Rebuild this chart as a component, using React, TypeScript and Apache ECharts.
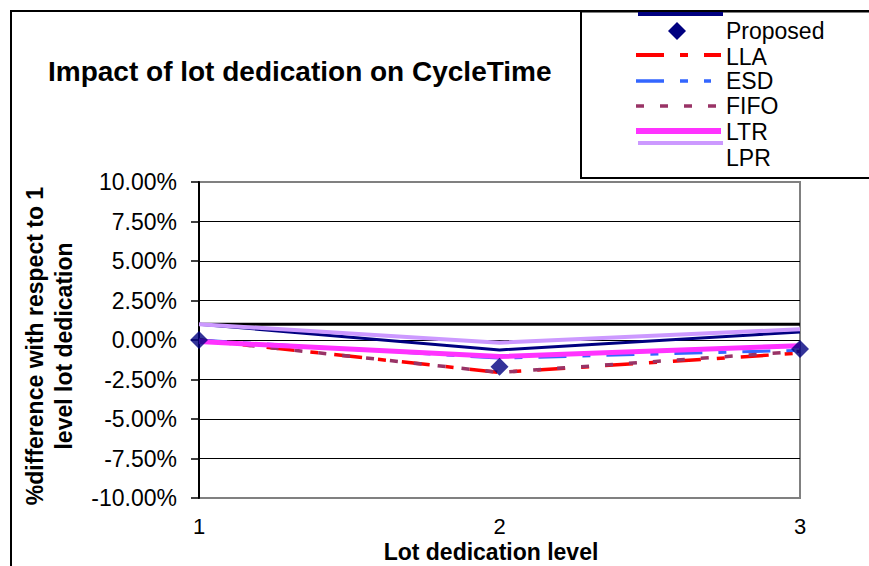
import React, { useEffect, useRef } from "react";
import * as echarts from "echarts";

// Lot dedication levels on the x axis
const levels = ["1", "2", "3"];

// % difference of cycle time with respect to 1-level lot dedication
const referenceLevel = [1, 1, 1];
const proposedTrend = [1, -0.63, 0.5];
const proposed = [0, -1.7, -0.57];
const lla = [0, -2.05, -0.83];
const esd = [0, -1.15, -0.65];
const fifo = [0, -2.05, -0.72];
const ltr = [-0.1, -1.05, -0.36];
const lpr = [1, -0.17, 0.68];

// y axis range and step (percent)
const yMin = -10;
const yMax = 10;
const yStep = 2.5;

const legendNames = ["Proposed", "LLA", "ESD", "FIFO", "LTR", "LPR"];

const FONT = '"Liberation Sans", Arial, sans-serif';
const NAVY = "#000080";
const RED = "#FF0000";
const BLUE = "#3366FF";
const PLUM = "#993366";
const MAGENTA = "#FF33FF";
const LAVENDER = "#CC99FF";
const DASH_DOT = [28, 16, 8, 16];
const DOTS = [8, 16];

export default function App() {
  const ref = useRef<HTMLDivElement>(null);

  useEffect(() => {
    if (!ref.current) return;
    const chart = echarts.init(ref.current, null, { renderer: "svg" });

    const lineSeries = (
      name: string,
      data: number[],
      color: string,
      width: number,
      type: any = "solid"
    ) => ({
      name,
      type: "line",
      data,
      symbol: "none",
      lineStyle: { color, width, type, cap: "butt" },
      itemStyle: { color },
      z: 3,
    });

    // legend rows: label y positions
    const legendLabelY = [31, 57, 81, 106, 132, 158];
    const legendX1 = 636;
    const legendX2 = 721;

    const legendGraphics: any[] = [
      {
        type: "rect",
        shape: { x: 582, y: 12.5, width: 300, height: 165 },
        style: { fill: "#fff", stroke: "none" },
        z: 50,
      },
      {
        type: "polyline",
        shape: { points: [[880, 11.5], [581, 11.5], [581, 178], [880, 178]] },
        style: { fill: "none", stroke: "#000", lineWidth: 2 },
        z: 51,
      },
      {
        type: "line",
        shape: { x1: 638, y1: 14, x2: 723, y2: 14 },
        style: { stroke: NAVY, lineWidth: 4 },
        z: 51,
      },
      {
        type: "polygon",
        shape: { points: [[677, 22], [686, 31], [677, 40], [668, 31]] },
        style: { fill: NAVY },
        z: 51,
      },
      {
        type: "line",
        shape: { x1: legendX1, y1: 55, x2: legendX2, y2: 55 },
        style: { stroke: RED, lineWidth: 4, lineDash: DASH_DOT },
        z: 51,
      },
      {
        type: "line",
        shape: { x1: legendX1, y1: 81, x2: 711, y2: 81 },
        style: { stroke: BLUE, lineWidth: 3.5, lineDash: DASH_DOT },
        z: 51,
      },
      {
        type: "line",
        shape: { x1: legendX1, y1: 106, x2: legendX2, y2: 106 },
        style: { stroke: PLUM, lineWidth: 3.5, lineDash: DOTS },
        z: 51,
      },
      {
        type: "line",
        shape: { x1: legendX1, y1: 131, x2: legendX2, y2: 131 },
        style: { stroke: MAGENTA, lineWidth: 6 },
        z: 51,
      },
      {
        type: "line",
        shape: { x1: 638, y1: 143, x2: 723, y2: 143 },
        style: { stroke: LAVENDER, lineWidth: 4 },
        z: 51,
      },
      ...legendNames.map((name, i) => ({
        type: "text",
        x: 726,
        y: legendLabelY[i],
        style: {
          text: name,
          fontSize: 23,
          lineHeight: 21,
          fontFamily: FONT,
          fill: "#000",
          align: "left",
          verticalAlign: "middle",
        },
        z: 52,
      })),
    ];

    chart.setOption({
      animation: false,
      backgroundColor: "#fff",
      title: {
        text: "Impact of lot dedication on CycleTime",
        left: 48,
        top: 57,
        padding: 0,
        textStyle: {
          fontSize: 28,
          fontWeight: "bold",
          fontFamily: FONT,
          color: "#000",
        },
      },
      grid: {
        left: 199,
        right: 69,
        top: 182,
        bottom: 68,
        show: true,
        borderColor: "#808080",
        borderWidth: 2,
        backgroundColor: "#fff",
      },
      xAxis: {
        type: "category",
        data: levels,
        boundaryGap: false,
        axisLine: { show: false },
        axisTick: { show: false },
        splitLine: { show: false },
        axisLabel: {
          fontSize: 22,
          lineHeight: 18,
          fontFamily: FONT,
          color: "#000",
          margin: 19,
        },
      },
      yAxis: {
        type: "value",
        min: yMin,
        max: yMax,
        interval: yStep,
        axisLine: { show: true, lineStyle: { color: "#000", width: 2 } },
        axisTick: {
          show: true,
          inside: false,
          length: 8,
          lineStyle: { color: "#000", width: 1.5 },
        },
        splitLine: {
          show: true,
          showMinLine: false,
          showMaxLine: false,
          lineStyle: { color: "#000", width: 1 },
        },
        axisLabel: {
          fontSize: 23,
          fontFamily: FONT,
          color: "#000",
          margin: 22,
          formatter: (v: number) => v.toFixed(2) + "%",
        },
      },
      series: [
        lineSeries("Reference", referenceLevel, "#000", 3),
        lineSeries("Proposed trend", proposedTrend, NAVY, 3),
        lineSeries("LLA", lla, RED, 3.5, DASH_DOT),
        lineSeries("ESD", esd, BLUE, 3, DASH_DOT),
        lineSeries("FIFO", fifo, PLUM, 3.5, DOTS),
        lineSeries("LTR", ltr, MAGENTA, 5),
        lineSeries("LPR", lpr, LAVENDER, 4),
        {
          name: "Proposed",
          type: "scatter",
          data: proposed,
          symbol: "diamond",
          symbolSize: 18,
          itemStyle: { color: NAVY },
          z: 10,
        },
      ],
      graphic: [
        {
          type: "polyline",
          shape: { points: [[11, 600], [11, 11], [880, 11]] },
          style: { fill: "none", stroke: "#000", lineWidth: 2 },
          z: 40,
        },
        ...legendGraphics,
        {
          type: "text",
          x: 49,
          y: 346,
          rotation: Math.PI / 2,
          style: {
            text: "%difference with respect to 1\nlevel lot dedication",
            fontSize: 23,
            fontWeight: "bold",
            fontFamily: FONT,
            lineHeight: 29,
            fill: "#000",
            align: "center",
            verticalAlign: "middle",
          },
          z: 45,
        },
        {
          type: "text",
          x: 491,
          y: 551.5,
          style: {
            text: "Lot dedication level",
            fontSize: 23,
            lineHeight: 18,
            fontWeight: "bold",
            fontFamily: FONT,
            fill: "#000",
            align: "center",
            verticalAlign: "middle",
          },
          z: 45,
        },
      ],
    });

    return () => chart.dispose();
  }, []);

  return (
    <div
      ref={ref}
      style={{ position: "absolute", left: 0, top: 0, width: 869, height: 566 }}
    />
  );
}
